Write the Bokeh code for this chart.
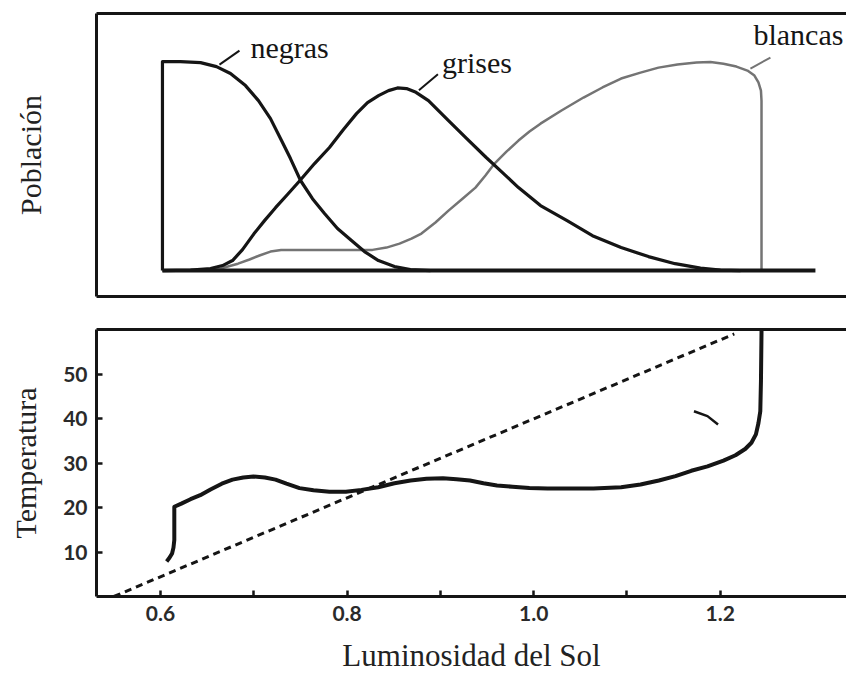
import numpy as np
from bokeh.plotting import figure
from bokeh.layouts import column
from bokeh.models import Range1d, LinearAxis, FixedTicker, Label
from bokeh.embed import file_html
from bokeh.resources import INLINE

# ---------------- data ----------------
# Top panel: population of each daisy type vs solar luminosity
negras_x = [0.6021, 0.6021, 0.6214, 0.6429, 0.6600, 0.6750, 0.6911, 0.7050, 0.7179, 0.7297,
            0.7393, 0.7501, 0.7629, 0.7758, 0.7897, 0.8047, 0.8186, 0.8336, 0.8508, 0.8679, 0.8894]
negras_y = [0.0, 1.0, 1.0, 0.995, 0.976, 0.943, 0.885, 0.813, 0.727, 0.622,
            0.536, 0.431, 0.344, 0.273, 0.201, 0.144, 0.091, 0.048, 0.019, 0.005, 0.0]

grises_x = [0.6021, 0.6322, 0.6536, 0.6665, 0.6772, 0.6879, 0.7003, 0.7115, 0.7233, 0.7361,
            0.7495, 0.7651, 0.7811, 0.7961, 0.8101, 0.8219, 0.8337, 0.8444, 0.8540, 0.8637,
            0.8738, 0.8872, 0.9087, 0.9280, 0.9491, 0.9666, 0.9837, 1.0073, 1.0358, 1.0630,
            1.0937, 1.1230, 1.1516, 1.1788, 1.2002, 1.2217]
grises_y = [0.0, 0.002, 0.010, 0.024, 0.048, 0.100, 0.177, 0.239, 0.301, 0.364,
            0.431, 0.512, 0.589, 0.675, 0.751, 0.804, 0.837, 0.861, 0.874, 0.871,
            0.853, 0.813, 0.718, 0.632, 0.541, 0.469, 0.397, 0.311, 0.239, 0.167,
            0.110, 0.067, 0.033, 0.012, 0.002, 0.0]

blancas_x = [0.6482, 0.6643, 0.6831, 0.6954, 0.7061, 0.7179, 0.7293, 0.8272, 0.8422, 0.8562,
             0.8690, 0.8797, 0.8947, 0.9087, 0.9237, 0.9376, 0.9483, 0.9580, 0.9708, 0.9837,
             0.9955, 1.0073, 1.0298, 1.0534, 1.0737, 1.0937, 1.1145, 1.1338, 1.1541, 1.1745,
             1.1895, 1.2034, 1.2173, 1.2291, 1.2366, 1.2409, 1.2436, 1.2442, 1.2442]
blancas_y = [0.0, 0.010, 0.033, 0.053, 0.072, 0.091, 0.099, 0.099, 0.110, 0.129,
             0.153, 0.177, 0.230, 0.287, 0.344, 0.397, 0.455, 0.512, 0.569, 0.622,
             0.665, 0.703, 0.766, 0.828, 0.876, 0.919, 0.947, 0.971, 0.986, 0.995,
             0.998, 0.990, 0.976, 0.957, 0.933, 0.900, 0.861, 0.813, 0.0]

base_x = [0.6021, 1.3020]
base_y = [0.0, 0.0]

series_names = ["negras", "grises", "blancas"]
label_anchor_index = [4, 20, 33]   # curve point where each label's leader starts

# Bottom panel: planet temperature vs solar luminosity
temp_x = [0.6066, 0.6096, 0.6124, 0.6139, 0.6148, 0.6148, 0.6223, 0.6322, 0.6426, 0.6536,
          0.6657, 0.6772, 0.6887, 0.6997, 0.7119, 0.7233, 0.7350, 0.7490, 0.7640, 0.7811,
          0.7987, 0.8154, 0.8334, 0.8508, 0.8680, 0.8851, 0.9028, 0.9173, 0.9317, 0.9462,
          0.9607, 0.9773, 0.9954, 1.0148, 1.0358, 1.0641, 1.0937, 1.1145, 1.1342, 1.1520,
          1.1689, 1.1863, 1.2034, 1.2163, 1.2267, 1.2334, 1.2382, 1.2409, 1.2429, 1.2436,
          1.2442, 1.2442]
temp_y = [7.9, 8.7, 9.7, 11.0, 12.7, 20.2, 20.9, 21.9, 22.8, 24.1,
          25.4, 26.3, 26.8, 27.0, 26.8, 26.3, 25.4, 24.4, 23.9, 23.6,
          23.6, 24.0, 24.6, 25.5, 26.1, 26.5, 26.6, 26.4, 26.1, 25.5,
          25.0, 24.7, 24.4, 24.3, 24.3, 24.3, 24.6, 25.2, 26.1, 27.1,
          28.3, 29.3, 30.6, 31.8, 33.2, 34.6, 36.5, 39.0, 41.7, 48.4,
          59.5, 61.0]

# temperature without life (dashed)
dead_x = [0.550, 1.215]
dead_y = [0.0, 59.1]

# small stray mark drawn in the original figure
mark_x = [1.1718, 1.1863, 1.1976]
mark_y = [41.7, 40.6, 38.7]

y_tick_vals = [10, 20, 30, 40, 50]
x_tick_vals = [0.6, 0.8, 1.0, 1.2]
x_tick_labels = ["0.6", "0.8", "1.0", "1.2"]
x_minor_vals = [0.7, 0.9, 1.1]

# ---------------- styling ----------------
SERIF = "Liberation Serif"
SANS = "Lato"
INK = "#151515"
TXT = "#222222"
W = 846
X0, X1 = 0.5314, 1.3353
TOP_Y = (-0.124, 1.23)
BOT_Y = (0.0, 60.1)

xr = Range1d(X0, X1)


def border_axis(p, loc, lw=3):
    ax = LinearAxis(ticker=FixedTicker(ticks=[]), axis_line_width=lw, axis_line_color=INK,
                    major_tick_line_color=None, minor_tick_line_color=None,
                    major_label_text_font_size="0px", major_label_standoff=0)
    p.add_layout(ax, loc)
    return ax


# ---------------- top panel ----------------
p1 = figure(width=W, height=312, x_range=xr, y_range=Range1d(*TOP_Y),
            output_backend="svg", toolbar_location=None,
            x_axis_location=None, y_axis_location=None,
            min_border_left=96, min_border_right=0, min_border_top=13, min_border_bottom=16,
            outline_line_color=None, background_fill_color="white", border_fill_color="white")
p1.xgrid.visible = False
p1.ygrid.visible = False

left1 = border_axis(p1, "left")
left1.axis_label = "Población"
left1.axis_label_text_font = SERIF
left1.axis_label_text_font_style = "normal"
left1.axis_label_text_font_size = "30px"
left1.axis_label_text_color = TXT
left1.axis_label_standoff = 50
border_axis(p1, "above")
border_axis(p1, "below")

p1.line(blancas_x, blancas_y, line_color="#747474", line_width=2.5, line_join="round")
p1.line(grises_x, grises_y, line_color=INK, line_width=3.2, line_join="round")
p1.line(negras_x, negras_y, line_color=INK, line_width=3.2, line_join="round")
p1.line(base_x, base_y, line_color=INK, line_width=4)

# labels with short leader lines (pixel offsets converted to data units)
fw1 = W - 96
fh1 = 312 - 13 - 16
px_x = fw1 / (X1 - X0)
px_y = fh1 / (TOP_Y[1] - TOP_Y[0])
leader_px = [(23, 16), (22, 18), (23, 13)]
label_off = [(34, 19), (26, 30), (6, 36)]
series = [(negras_x, negras_y, INK), (grises_x, grises_y, INK), (blancas_x, blancas_y, "#747474")]
for name, idx, (sx, sy, col), (ldx, ldy), (tox, toy) in zip(series_names, label_anchor_index,
                                                           series, leader_px, label_off):
    ax_, ay_ = sx[idx], sy[idx]
    p1.line([ax_ + 3 / px_x, ax_ + ldx / px_x], [ay_ + 2 / px_y, ay_ + ldy / px_y],
            line_color=col, line_width=2)
    p1.add_layout(Label(x=ax_, y=ay_, x_offset=tox, y_offset=toy, text=name,
                        text_font=SERIF, text_font_size="30px", text_color=INK,
                        text_align="left", text_baseline="alphabetic"))

# ---------------- bottom panel ----------------
p2 = figure(width=W, height=363, x_range=xr, y_range=Range1d(*BOT_Y),
            output_backend="svg", toolbar_location=None,
            x_axis_location=None, y_axis_location=None,
            min_border_left=96, min_border_right=0, min_border_top=17, min_border_bottom=78,
            outline_line_color=None, background_fill_color="white", border_fill_color="white")
p2.xgrid.visible = False
p2.ygrid.visible = False

yax = LinearAxis(ticker=FixedTicker(ticks=y_tick_vals), axis_line_width=3, axis_line_color=INK,
                 major_tick_in=6, major_tick_out=0, major_tick_line_width=2.5,
                 major_tick_line_color=INK, minor_tick_line_color=None,
                 major_label_text_font=SANS, major_label_text_font_style="bold",
                 major_label_text_font_size="21px", major_label_text_color="#2a2a2a",
                 major_label_standoff=9,
                 axis_label="Temperatura", axis_label_text_font=SERIF,
                 axis_label_text_font_style="normal", axis_label_text_font_size="30px",
                 axis_label_text_color=TXT, axis_label_standoff=18)
p2.add_layout(yax, "left")

xax = LinearAxis(ticker=FixedTicker(ticks=x_tick_vals, minor_ticks=x_minor_vals),
                 axis_line_width=3, axis_line_color=INK,
                 major_tick_in=6, major_tick_out=0, major_tick_line_width=2.5,
                 major_tick_line_color=INK,
                 minor_tick_in=6, minor_tick_out=0, minor_tick_line_width=2.5,
                 minor_tick_line_color=INK,
                 major_label_overrides=dict(zip(x_tick_vals, x_tick_labels)),
                 major_label_text_font=SANS, major_label_text_font_style="bold",
                 major_label_text_font_size="21px", major_label_text_color="#2a2a2a",
                 major_label_standoff=9,
                 axis_label="Luminosidad del Sol", axis_label_text_font=SERIF,
                 axis_label_text_font_style="normal", axis_label_text_font_size="31px",
                 axis_label_text_color=TXT, axis_label_standoff=14)
p2.add_layout(xax, "below")
border_axis(p2, "above")

p2.line(dead_x, dead_y, line_color=INK, line_width=3, line_dash="7 5")
p2.line(temp_x, temp_y, line_color=INK, line_width=4, line_join="round")
p2.line(mark_x, mark_y, line_color=INK, line_width=2.5)

layout = column(p1, p2)
open("out.html", "w").write(file_html(layout, INLINE))
